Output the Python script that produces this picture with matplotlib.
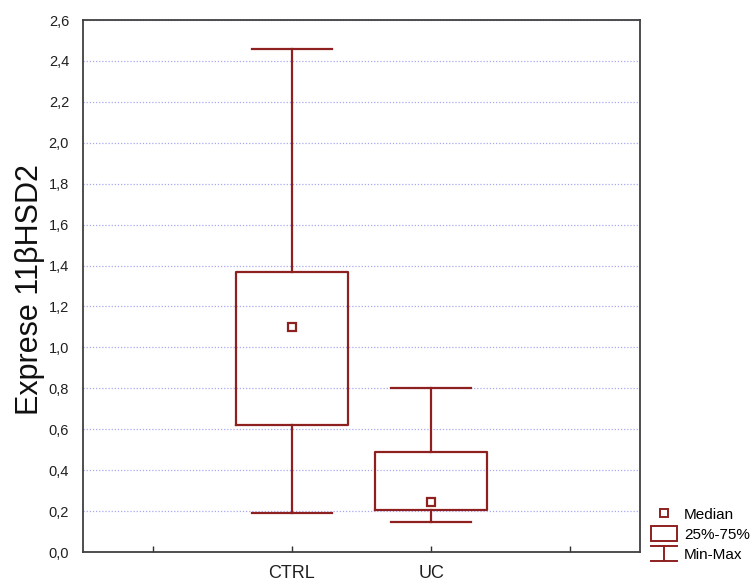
import matplotlib
matplotlib.use("Agg")
import matplotlib.pyplot as plt
from matplotlib.legend_handler import HandlerBase
from matplotlib.lines import Line2D
from matplotlib.patches import Rectangle

categories = ["CTRL", "UC"]
medians = [1.10, 0.245]
q1 = [0.62, 0.207]
q3 = [1.37, 0.49]
mins = [0.19, 0.145]
maxs = [2.46, 0.80]
y_ticks = [0.0, 0.2, 0.4, 0.6, 0.8, 1.0, 1.2, 1.4, 1.6, 1.8, 2.0, 2.2, 2.4, 2.6]
y_label = "Exprese 11βHSD2"
legend_labels = ["Median", "25%-75%", "Min-Max"]

COL = "#8e2020"
plt.rcParams['font.family'] = ['Liberation Sans', 'DejaVu Sans']

fig = plt.figure(figsize=(7.56, 5.8), dpi=100)
ax = fig.add_axes([83/756, 28/580, (640-83)/756, (552-20)/580])

positions = [1, 2]
stats = []
for i, c in enumerate(categories):
    stats.append(dict(label=c, med=medians[i], q1=q1[i], q3=q3[i],
                      whislo=mins[i], whishi=maxs[i], fliers=[]))
ax.bxp(stats, positions=positions, widths=0.8, capwidths=0.57,
       showfliers=False,
       boxprops=dict(color=COL, linewidth=1.6),
       whiskerprops=dict(color=COL, linewidth=1.6),
       capprops=dict(color=COL, linewidth=1.6),
       medianprops=dict(linestyle='none'), zorder=3)
ax.plot(positions, medians, linestyle='none', marker='s', markersize=6,
        markerfacecolor='white', markeredgecolor=COL, markeredgewidth=1.6, zorder=4)

ax.set_xlim(-0.5, 3.5)
ax.set_ylim(0, 2.6)
ax.set_xticks([0, 1, 2, 3])
ax.set_xticklabels(["", "CTRL", "UC", ""], fontsize=13)
ax.set_yticks(y_ticks)
ax.set_yticklabels([f"{v:.1f}".replace(".", ",") for v in y_ticks], fontsize=10.5, color='#202020')
ax.tick_params(axis='x', direction='in', length=4, pad=9, width=1, colors='#303030')
ax.tick_params(axis='y', length=0, pad=10)
for lab in ax.get_xticklabels():
    lab.set_color('#202020')
ax.yaxis.grid(True, color='#a8a8f0', linestyle=(0, (1, 1.5)), linewidth=0.9, zorder=0)
ax.set_axisbelow(True)
for s in ax.spines.values():
    s.set_color('#404040')
    s.set_linewidth(1.3)

ax.set_ylabel(y_label, fontsize=22, color='#101010')
ax.yaxis.set_label_coords(-0.069, 0.494)


class MinMaxHandler(HandlerBase):
    def create_artists(self, legend, orig_handle, xdescent, ydescent, width, height, fontsize, trans):
        x0, x1 = -xdescent, -xdescent + width
        xm = (x0 + x1) / 2
        yb, yt = -ydescent, -ydescent + height
        lines = [Line2D([x0, x1], [yt, yt]), Line2D([x0, x1], [yb, yb]), Line2D([xm, xm], [yb, yt])]
        for l in lines:
            l.set_color(COL)
            l.set_linewidth(1.4)
            l.set_transform(trans)
        return lines


h_med = Line2D([], [], linestyle='none', marker='s', markersize=6,
               markerfacecolor='white', markeredgecolor=COL, markeredgewidth=1.4)
h_box = Rectangle((0, 0), 1, 1, facecolor='white', edgecolor=COL, linewidth=1.4)
h_mm = object()
leg = fig.legend([h_med, h_box, h_mm], legend_labels,
                 handler_map={object: MinMaxHandler()},
                 loc='lower left', bbox_to_anchor=(651/756, 18/580),
                 frameon=False, fontsize=11, handlelength=1.7, handleheight=1.1,
                 handletextpad=0.45, labelspacing=0.3, borderpad=0.0, borderaxespad=0.0)

fig.savefig("out.png", dpi=100, facecolor='white')
